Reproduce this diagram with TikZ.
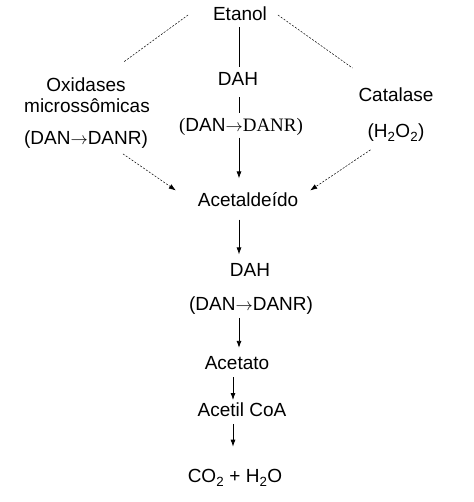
\documentclass[tikz,border=0pt]{standalone}
\usepackage{fontspec}
\setmainfont{Liberation Sans}
\newfontfamily\serifpart{Liberation Serif}
\usetikzlibrary{arrows.meta,positioning}

\begin{document}
\begin{tikzpicture}[x=1pt, y=-1pt,
  font=\fontsize{19}{23}\selectfont,
  every node/.style={inner sep=0pt, outer sep=0pt},
  link/.style={line width=0.8pt},
  flow/.style={line width=0.8pt, -{Latex[length=7pt,width=5pt]}},
  side/.style={line width=0.5pt, dash pattern=on 2pt off 1.5pt},
  sideflow/.style={side, -{Latex[length=7pt,width=5pt]}}]
\useasboundingbox (0,0) rectangle (473,502);
\coordinate (c1) at (239,0);
\coordinate (c2) at (233,0);
\node (et) at (240,13.5) {Etanol};
\node (dah1) at (238,78.5) {DAH};
\node (dr1) at (241,127) {{\serifpart(}DAN{\serifpart$\rightarrow$DANR)}};
\node (ox) at (86,85) {Oxidases};
\node (mic) at (87,105.5) {microssômicas};
\node (oxr) at (86,140) {(DAN$\rightarrow$DANR)};
\node (cat) at (396,95) {Catalase};
\node (h2o) at (396,133) {(H\textsubscript{2}O\textsubscript{2})};
\node (ac) at (248,199.5) {Acetaldeído};
\node (dah2) at (250,270) {DAH};
\node (dr2) at (251,306) {(DAN$\rightarrow$DANR)};
\node (ace) at (237,363.5) {Acetato};
\node (coa) at (242,410) {Acetil CoA};
\node (co2) at (235,478) {CO\textsubscript{2} + H\textsubscript{2}O};
% central way
\draw[link, shorten <=7pt, shorten >=5pt] (et.south -| c1) -- (dah1.north -| c1);
\draw[link, shorten <=12pt, shorten >=5pt] (dah1.south -| c1) -- (dr1.north -| c1);
\draw[flow, shorten <=2pt, shorten >=14pt] (dr1.south -| c1) -- (ac.north -| c1);
% side ways
\draw[side] ([xshift=-25pt,yshift=-1.5pt]et.west) -- ([xshift=-2pt,yshift=16pt]ox.north east);
\draw[side] ([xshift=11pt,yshift=-1.5pt]et.east) -- ([xshift=-6pt,yshift=20pt]cat.north west);
\draw[sideflow] ([xshift=-25pt,yshift=-5pt]oxr.south east) -- ([xshift=-22pt,yshift=2pt]ac.north west);
\draw[sideflow] ([xshift=3pt,yshift=-8pt]h2o.south west) -- ([xshift=12pt,yshift=2pt]ac.north east);
% oxidation of acetaldehyde
\draw[flow, shorten <=13pt, shorten >=9pt] (ac.south -| c1) -- (dah2.north -| c1);
\draw[flow, shorten <=3pt, shorten >=9pt] (dr2.south -| c1) -- (ace.north -| c1);
\draw[flow, shorten <=7pt, shorten >=3pt] (ace.south -| c2) -- (coa.north -| c2);
\draw[flow, shorten <=7pt, shorten >=23pt] (coa.south -| c2) -- (co2.north -| c2);
\end{tikzpicture}
\end{document}
